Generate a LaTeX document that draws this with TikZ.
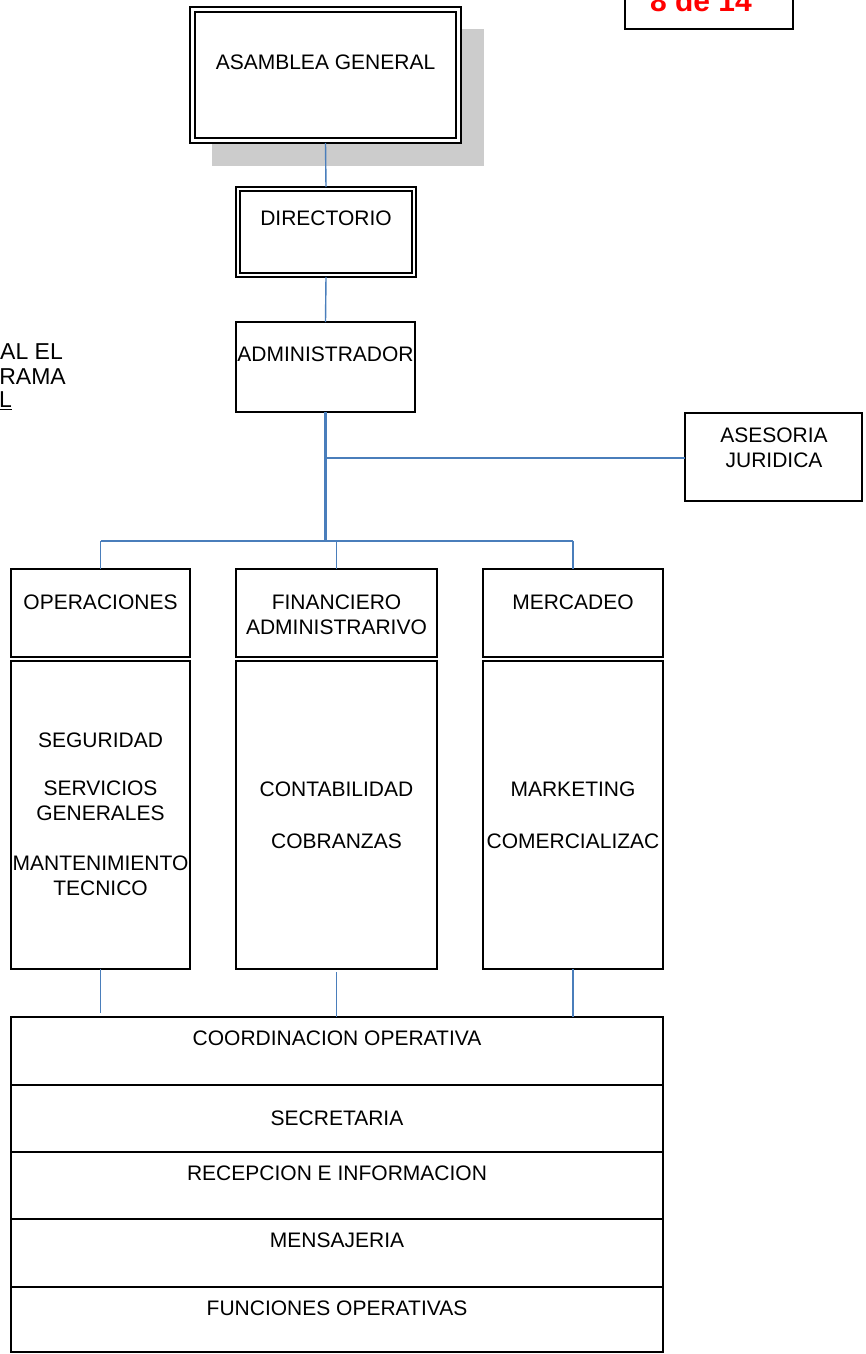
\documentclass[tikz,border=0pt]{standalone}
\usepackage{fontspec}
\newfontfamily\arialfont{Liberation Sans}
\newcommand\fs{\arialfont\fontsize{21}{25}\selectfont}
\definecolor{linkblue}{HTML}{4A7EBB}
\definecolor{shadowgray}{HTML}{CCCCCC}
\definecolor{pagered}{HTML}{FF0000}
\begin{document}
\begin{tikzpicture}[x=1pt,y=-1pt,
  box/.style={draw=black, line width=1.6pt, fill=white, inner sep=0pt, outer sep=0pt, anchor=north west},
  lbl/.style={font=\fs, align=center, inner sep=0pt, text=black},
  sidelbl/.style={font=\arialfont\fontsize{23}{25}\selectfont, inner sep=0pt, text=black},
  conn/.style={draw=linkblue, line width=1.4pt},
  trunk/.style={draw=linkblue, line width=2.4pt}]
\useasboundingbox (0,0) rectangle (865,1354);

% page number box
\node[box, minimum width=168pt, minimum height=60pt, anchor=south west] (pg) at (625,29) {};
\node[font=\arialfont\fontsize{30}{34}\selectfont\bfseries, text=pagered, inner sep=0pt, anchor=base] (pgt) at (701,12) {8 de 14};

% left cut text
\node[sidelbl, anchor=west] (t1) at (0,352) {AL EL};
\node[sidelbl, anchor=east] (t2) at (66,377) {RAMA};
\node[sidelbl, anchor=west] (t3) at (-1,401) {\underline{L}};

% asamblea with shadow
\fill[shadowgray] (212,29) rectangle (484,166);
\node[box, minimum width=271pt, minimum height=136pt] (asam) at (190,7) {};
\draw[line width=1.6pt] ([shift={(5,5)}]asam.north west) rectangle ([shift={(-5,-5)}]asam.south east);
\node[lbl] (asamt) at (325.5,62) {ASAMBLEA GENERAL};

% directorio
\node[box, minimum width=180pt, minimum height=90pt] (dir) at (236,187) {};
\draw[line width=1.6pt] ([shift={(4,4)}]dir.north west) rectangle ([shift={(-4,-4)}]dir.south east);
\node[lbl] (dirt) at (326,218) {DIRECTORIO};

% administrador
\node[box, minimum width=179pt, minimum height=90pt] (adm) at (236,322) {};
\node[lbl] (admt) at (325.5,354) {ADMINISTRADOR};

% asesoria
\node[box, minimum width=177pt, minimum height=88pt] (ase) at (685,413) {};
\node[lbl] (aset) at (774,447.5) {ASESORIA\\JURIDICA};

% department heads
\node[box, minimum width=179pt, minimum height=88pt] (ops) at (11,569) {};
\node[lbl] (opst) at (100.5,602) {OPERACIONES};
\node[box, minimum width=201pt, minimum height=88pt] (fin) at (236,569) {};
\node[lbl] (fint) at (336.5,614.5) {FINANCIERO\\ADMINISTRARIVO};
\node[box, minimum width=180pt, minimum height=88pt] (mer) at (483,569) {};
\node[lbl] (mert) at (573,602) {MERCADEO};

% department contents
\node[box, minimum width=179pt, minimum height=308pt] (opsb) at (11,661) {};
\node[lbl] (o1) at (100.5,740) {SEGURIDAD};
\node[lbl] (o2) at (100.5,801) {SERVICIOS\\GENERALES};
\node[lbl] (o3) at (100.5,875.5) {MANTENIMIENTO\\TECNICO};
\node[box, minimum width=201pt, minimum height=308pt] (finb) at (236,661) {};
\node[lbl] (f1) at (336.5,789) {CONTABILIDAD};
\node[lbl] (f2) at (336.5,841) {COBRANZAS};
\node[box, minimum width=180pt, minimum height=308pt] (merb) at (483,661) {};
\node[lbl] (m1) at (573,789) {MARKETING};
\node[lbl] (m2) at (573,841) {COMERCIALIZAC};

% bottom stack
\node[box, minimum width=652pt, minimum height=68pt] (coo) at (11,1017) {};
\node[lbl] (coot) at (337,1038) {COORDINACION OPERATIVA};
\node[box, minimum width=652pt, minimum height=67pt] (sec) at (11,1085) {};
\node[lbl] (sect) at (337,1118) {SECRETARIA};
\node[box, minimum width=652pt, minimum height=67pt] (rec) at (11,1152) {};
\node[lbl] (rect) at (337,1173) {RECEPCION E INFORMACION};
\node[box, minimum width=652pt, minimum height=68pt] (men) at (11,1219) {};
\node[lbl] (ment) at (337,1240) {MENSAJERIA};
\node[box, minimum width=652pt, minimum height=65pt] (fun) at (11,1287) {};
\node[lbl] (funt) at (337,1308) {FUNCIONES OPERATIVAS};

% connectors
\coordinate (jA) at (adm.south |- 0,458);
\coordinate (jB) at (adm.south |- 0,541);
\coordinate (bl) at (ops.north |- 0,541);
\coordinate (br) at (mer.north |- 0,541);
\draw[conn] (asam.south) -- (dir.north);
\draw[conn] (dir.south) -- (adm.north);
\draw[trunk] (adm.south) -- (jB);
\draw[conn] (jA) -- (ase.west |- jA);
\draw[conn] (bl) -- (br);
\draw[conn] (bl) -- (ops.north);
\draw[conn] (fin.north |- bl) -- (fin.north);
\draw[conn] (br) -- (mer.north);
\draw[conn] (opsb.south) -- ([yshift=4pt]opsb.south |- coo.north);
\draw[conn] ([yshift=-3pt]finb.south) -- (finb.south |- coo.north);
\draw[conn] (merb.south) -- (merb.south |- coo.north);
\end{tikzpicture}
\end{document}
